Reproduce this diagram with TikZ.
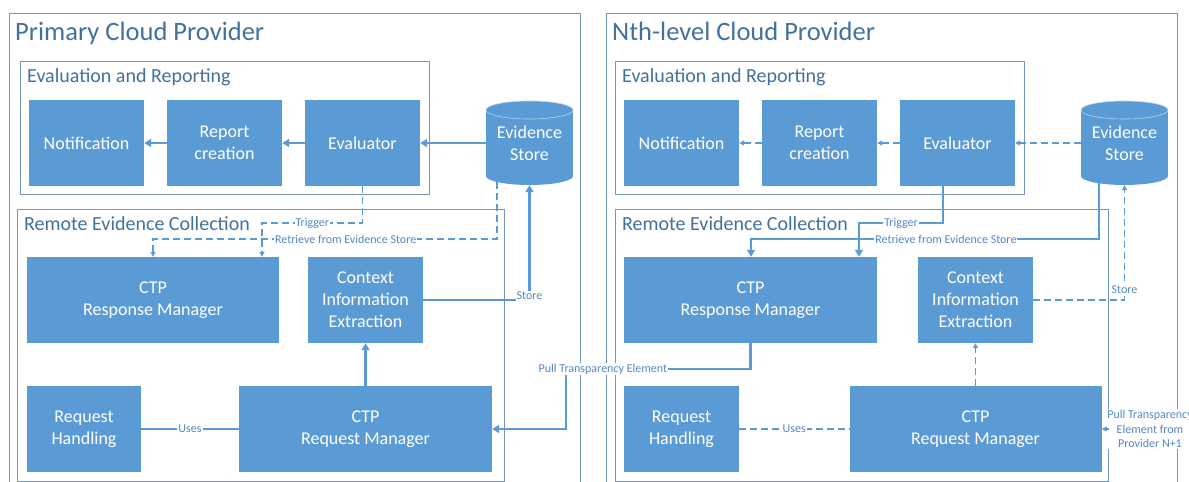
\documentclass[tikz,border=0pt]{standalone}
\usepackage{fontspec}
\setmainfont{Carlito}
\usetikzlibrary{arrows.meta,calc}
\definecolor{boxblue}{RGB}{91,155,213}
\definecolor{framecol}{RGB}{115,148,195}
\definecolor{titlecol}{RGB}{65,113,156}
\definecolor{lblcol}{RGB}{84,135,200}
\tikzset{
  frame/.style={draw=framecol, line width=1pt},
  comp/.style={fill=boxblue, text=white, align=center, inner sep=0pt,
    font=\fontsize{18}{22}\selectfont},
  bigtitle/.style={text=titlecol, anchor=base west, inner sep=0pt,
    font=\fontsize{26.5}{30}\selectfont},
  grouptitle/.style={text=titlecol, anchor=base west, inner sep=0pt,
    font=\fontsize{20}{24}\selectfont},
  conn/.style={draw=boxblue, line width=2.2pt},
  connarrow/.style={conn, -{Triangle[length=7pt,width=8pt]}},
  lite/.style={draw=boxblue, line width=1.1pt, dash pattern=on 7pt off 4pt},
  litearrow/.style={lite, -{Triangle[length=5pt,width=5pt]}},
  lbl/.style={fill=white, text=lblcol, inner sep=1pt, align=center,
    font=\fontsize{12}{14.5}\selectfont},
}
% component box: name, centre x, centre y, width, height, text
\newcommand{\compbox}[6]{%
  \node[comp, minimum width=#4pt, minimum height=#5pt] (#1) at (#2,#3) {#6};}
% evidence store drawn as a cylinder: name, centre x, centre y
\newcommand{\storecyl}[3]{%
  \begin{scope}[shift={(#2,#3)}]
    \fill[boxblue] (-43.5,-33) rectangle (43.5,33);
    \fill[boxblue] (0,33) ellipse [x radius=43.5pt, y radius=9pt];
    \filldraw[fill=boxblue, draw=white!55!boxblue, line width=0.6pt]
      (0,-33) ellipse [x radius=43.5pt, y radius=9pt];
    \node[comp, fill=none, minimum width=87pt, minimum height=84pt] (#1) at (0,0)
      {Evidence\\Store};
  \end{scope}}
\begin{document}
\begin{tikzpicture}[x={(1pt,0pt)}, y={(0pt,-1pt)}]
\useasboundingbox (0,0) rectangle (1189,482);
\clip (0,0) rectangle (1189,482);

% ---------- frames ----------
\draw[frame] (9,13) rectangle (580,520);
\draw[frame] (20,61) rectangle (429,194);
\draw[frame] (17,209) rectangle (504,481);
\draw[frame] (606,13) rectangle (1177,520);
\draw[frame] (615,61) rectangle (1024,194);
\draw[frame] (615,209) rectangle (1108,481);

\node[bigtitle] (tPrimary) at (15,40) {Primary Cloud Provider};
\node[grouptitle] (tEvalL) at (27,82) {Evaluation and Reporting};
\node[grouptitle] (tRemoteL) at (24,230) {Remote Evidence Collection};
\node[bigtitle] (tNth) at (612,40) {Nth-level Cloud Provider};
\node[grouptitle] (tEvalR) at (622,82) {Evaluation and Reporting};
\node[grouptitle] (tRemoteR) at (622,230) {Remote Evidence Collection};

% ---------- primary provider components ----------
\compbox{notifL}{86.5}{143}{115}{86}{Notification}
\compbox{reportL}{224.5}{143}{115}{86}{Report\\creation}
\compbox{evaluatorL}{362.5}{143}{115}{86}{Evaluator}
\storecyl{esL}{529.5}{143}
\compbox{respL}{153}{300}{252}{86}{CTP\\Response Manager}
\compbox{ctxL}{365.5}{300}{115}{86}{Context\\Information\\Extraction}
\compbox{rhL}{84}{429}{114}{86}{Request\\Handling}
\compbox{rqL}{365.5}{429}{253}{86}{CTP\\Request Manager}

% ---------- nth-level provider components ----------
\compbox{notifR}{681.5}{143}{115}{86}{Notification}
\compbox{reportR}{819.5}{143}{115}{86}{Report\\creation}
\compbox{evaluatorR}{957.5}{143}{115}{86}{Evaluator}
\storecyl{esR}{1124.5}{143}
\compbox{respR}{750.5}{300}{253}{86}{CTP\\Response Manager}
\compbox{ctxR}{975.5}{300}{115}{86}{Context\\Information\\Extraction}
\compbox{rhR}{681.5}{429}{115}{86}{Request\\Handling}
\compbox{rqR}{975.5}{429}{252}{86}{CTP\\Request Manager}

% ---------- primary provider flows ----------
\draw[connarrow] (esL.west) -- (evaluatorL.east);
\draw[connarrow] (evaluatorL.west) -- (reportL.east);
\draw[connarrow] (reportL.west) -- (notifL.east);
\coordinate (tL) at (262,223);
\draw[litearrow] (evaluatorL.south) |- (tL)
  node[lbl, pos=0.75] (lTrigL) {Trigger} -- (tL |- respL.north);
\coordinate (rL) at (153,239);
\draw[litearrow] ($(esL.south)+(-32.5,-3)$) |- (rL)
  node[lbl, pos=0.72] (lRetL) {Retrieve from Evidence Store} -- (rL |- respL.north);
\draw[connarrow] (ctxL.east) -| (esL.south)
  node[lbl, pos=0.5, yshift=4pt] (lStoreL) {Store};
\draw[connarrow] (rqL.north) -- (ctxL.south);
\draw[conn, line width=2pt] (rhL.east) -- (rqL.west)
  node[lbl, midway] (lUsesL) {Uses};
\coordinate (pullL) at (566,369);
\draw[connarrow] (respR.south) |- (pullL)
  node[lbl, pos=0.9] (lPullL) {Pull Transparency Element}
  -- (pullL |- rqL.east) -- (rqL.east);

% ---------- nth-level provider flows ----------
\draw[litearrow] (esR.west) -- (evaluatorR.east);
\draw[litearrow] (evaluatorR.west) -- (reportR.east);
\draw[litearrow] (reportR.west) -- (notifR.east);
\coordinate (tR) at (859,223);
\draw[connarrow] ($(evaluatorR.south)+(-14.5,0)$) |- (tR)
  node[lbl, pos=0.75] (lTrigR) {Trigger} -- (tR |- respR.north);
\coordinate (rR) at (751,239);
\draw[connarrow] ($(esR.south)+(-25.5,-2)$) |- (rR)
  node[lbl, pos=0.72] (lRetR) {Retrieve from Evidence Store} -- (rR |- respR.north);
\draw[litearrow] (ctxR.east) -| (esR.south)
  node[lbl, pos=0.547] (lStoreR) {Store};
\draw[litearrow] (rqR.north) -- (ctxR.south);
\draw[lite] (rhR.east) -- (rqR.west)
  node[lbl, midway] (lUsesR) {Uses};
\node[lbl, inner xsep=0.5pt] (lPullR) at (1150,429)
  {Pull Transparency\\Element from\\Provider N+1};
\coordinate (pullR) at (1109,429);
\draw[litearrow] (pullR) -- (rqR.east);
\end{tikzpicture}
\end{document}
